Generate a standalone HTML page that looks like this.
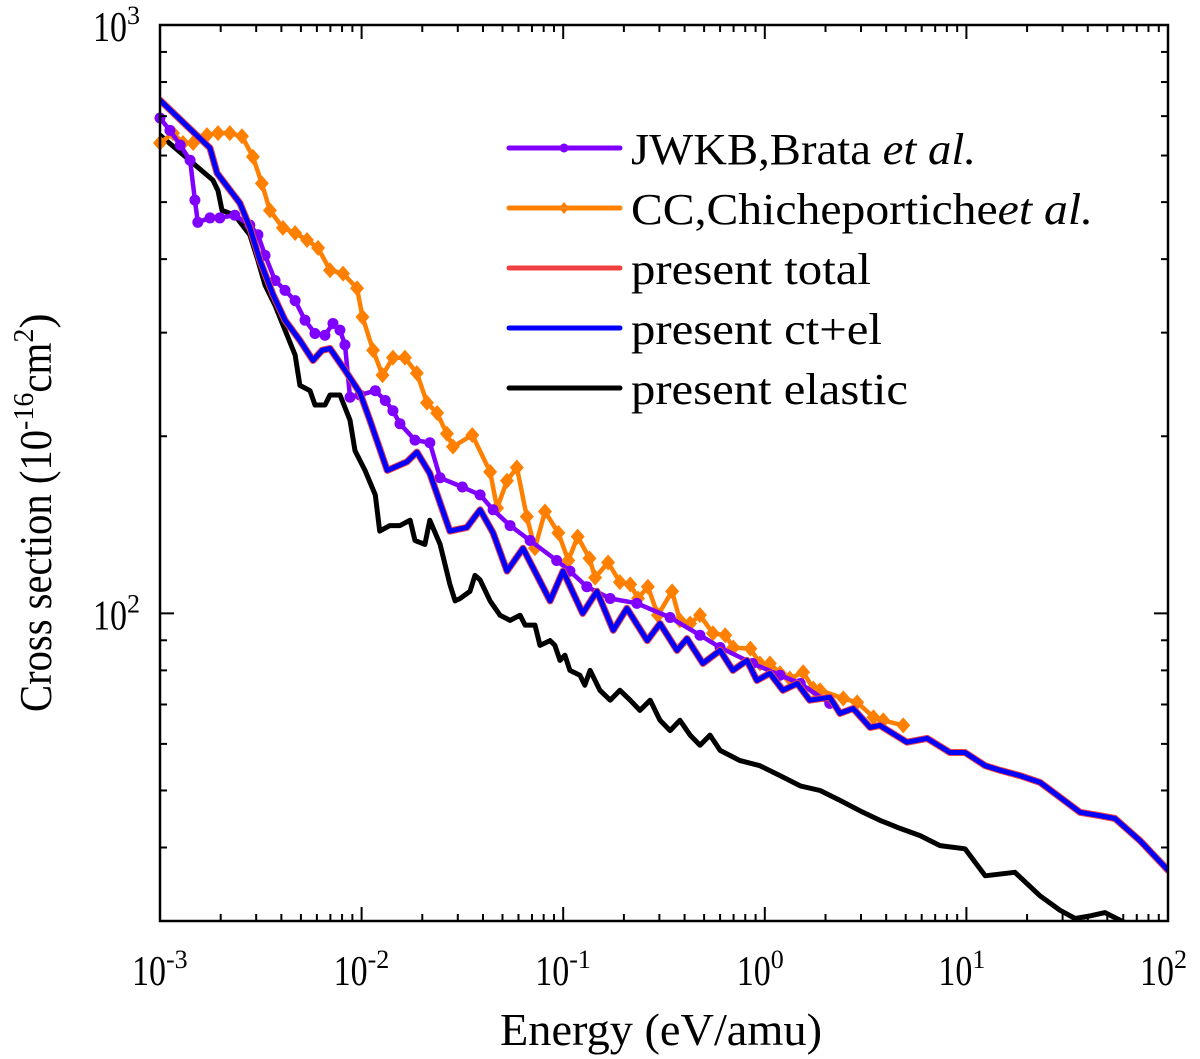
<!DOCTYPE html>
<html><head><meta charset="utf-8"><style>
html,body{margin:0;padding:0;background:#fff;}
svg{display:block;}
text{font-family:"Liberation Serif","Times New Roman",serif;}
</style></head><body>
<svg id="chart" width="1200" height="1059" viewBox="0 0 1200 1059" xmlns="http://www.w3.org/2000/svg">
<g id="series"></g>
<g id="axes"></g>
<g id="legend"></g>
</svg>
<script>
// ---- data ----
const blueE = [0.001,0.00177,0.00192,0.00249,0.00279,0.00313,0.00364,0.00417,0.00494,0.00574,0.00636,0.00697,0.00827,0.00982,0.0110,0.0134,0.0168,0.0188,0.0218,0.0274,0.0333,0.0387,0.0449,0.0526,0.0632,0.0861,0.0998,0.125,0.147,0.177,0.207,0.261,0.302,0.367,0.411,0.493,0.600,0.695,0.816,0.914,1.06,1.23,1.45,1.67,2.10,2.36,2.74,3.33,3.72,5.07,6.38,8.29,9.84,12.4,14.7,18.4,23.2,29.1,36.6,46.0,54.6,72.6,100];
const blueV = [745,618,560,498,453,398,348,315,291,269,280,282,259,237,213,175,181,188,173,138,140,150,137,118,129,105,118,100,109,93.6,102,89.9,96.1,86.5,90.6,82.2,86.5,80.0,83.2,76.9,79.1,74.0,76.0,71.2,72.0,67.6,68.9,64.0,64.5,60.4,61.3,58.0,58.0,55.1,54.1,53.0,51.6,48.7,45.9,45.3,44.8,41.1,36.6];
const redE = blueE;
const redV = blueV;
const blackE = [0.001,0.00183,0.00194,0.00203,0.00235,0.00279,0.00306,0.00332,0.00372,0.00417,0.00468,0.00494,0.00555,0.00587,0.00658,0.00697,0.00781,0.00876,0.00927,0.0104,0.0117,0.0123,0.0138,0.0155,0.0174,0.0184,0.0206,0.0218,0.0245,0.0274,0.0291,0.0308,0.0345,0.0365,0.0387,0.0434,0.0486,0.0545,0.0611,0.0647,0.0725,0.0767,0.0861,0.0910,0.0964,0.102,0.108,0.121,0.128,0.136,0.152,0.171,0.191,0.215,0.240,0.270,0.302,0.339,0.379,0.426,0.477,0.535,0.600,0.753,0.946,1.19,1.50,1.88,2.36,2.96,3.72,4.69,5.89,7.40,9.84,12.4,17.4,23.2,29.1,34.6,41.0,48.7,61.2];
const blackV = [650,545,523,484,475,440,398,361,334,303,275,244,239,226,226,235,235,213,189,175,159,138,141,141,144,133,131,144,131,112,105,106,109,116,114,105,99.3,97.3,99.3,95.5,95.5,88.2,89.9,88.2,83.2,84.9,80.0,78.5,75.5,80.0,74.0,71.2,74.0,71.2,68.4,71.2,65.8,63.2,65.8,62.1,59.7,62.1,58.5,56.2,55.1,53.0,50.9,50.0,48.1,46.2,44.5,43.1,41.9,40.3,39.8,35.8,36.3,33.1,31.3,30.3,30.6,31.0,29.8];
const purpleE = [0.001,0.00112,0.00126,0.00141,0.00149,0.00154,0.00177,0.00198,0.00235,0.00279,0.00306,0.00332,0.00372,0.00417,0.00468,0.00524,0.00587,0.00658,0.00721,0.00781,0.00827,0.00876,0.00982,0.0117,0.0131,0.0143,0.0155,0.0184,0.0218,0.0245,0.0316,0.0387,0.0449,0.0545,0.0685,0.0928,0.108,0.131,0.171,0.232,0.339,0.477,0.600,0.869,1.19,1.50,2.10];
const purpleV = [695,662,625,589,504,462,470,470,475,457,440,406,368,354,340,315,299,297,311,303,286,233,235,239,230,221,210,197,195,170,164,159,150,141,133,123,118,111,106,104,98.4,91.8,87.5,82.2,78.5,76.0,70.3];
const orangeE = [0.001,0.00116,0.00130,0.00146,0.00171,0.00194,0.00222,0.00255,0.00289,0.00320,0.00351,0.00407,0.00468,0.00536,0.00608,0.00697,0.00809,0.00949,0.0101,0.0114,0.0127,0.0143,0.0164,0.0188,0.0211,0.0237,0.0265,0.0284,0.0354,0.0434,0.0470,0.0526,0.0589,0.0660,0.0724,0.0812,0.0946,0.106,0.118,0.135,0.144,0.167,0.191,0.215,0.235,0.263,0.295,0.347,0.379,0.426,0.477,0.553,0.636,0.698,0.848,0.946,1.06,1.19,1.33,1.55,1.74,1.88,2.45,2.87,3.46,3.87,4.86];
const orangeV = [630,655,630,630,650,655,655,647,597,538,484,452,443,431,418,383,378,357,319,280,254,272,272,256,228,219,202,192,201,174,151,168,177,146,129,149,137,123,135,124,115,122,113,112,106,111,99.3,109,97.3,96.1,99.3,92.5,91.8,87.5,87.1,82.2,82.2,79.1,77.5,79.4,74.5,74.0,71.7,70.6,66.6,65.8,64.5];
const xTickExps = [-3,-2,-1,0,1,2];
const yTickExps = [2,3];
const legendLabels = ["JWKB,Brata","CC,Chicheportiche","present total","present ct+el","present elastic"];

// ---- scales ----
const L=160,R=1168,T=25,B=921;
const XMIN=-3,XMAX=2,YMIN=Math.log10(30),YMAX=3;
function sx(e){return L+(Math.log10(e)-XMIN)/(XMAX-XMIN)*(R-L);}
function sy(v){return T+(YMAX-Math.log10(v))/(YMAX-YMIN)*(B-T);}
const NS="http://www.w3.org/2000/svg";
function mk(tag,attrs,parent){const el=document.createElementNS(NS,tag);for(const k in attrs)el.setAttribute(k,attrs[k]);parent.appendChild(el);return el;}
const gS=document.getElementById('series'),gA=document.getElementById('axes'),gL=document.getElementById('legend');

const defs=mk('defs',{},gS);
const cp=mk('clipPath',{id:'clip'},defs);
mk('rect',{x:L,y:T,width:R-L,height:B-T},cp);

function line(E,V,color,w,name){
  const d=E.map((e,i)=>(i?'L':'M')+sx(e).toFixed(1)+','+sy(V[i]).toFixed(1)).join('');
  const p=mk('path',{d:d,fill:'none',stroke:color,'stroke-width':w,'stroke-linejoin':'round','stroke-linecap':'round','clip-path':'url(#clip)'},gS);
  
  
  return p;
}
line(blackE,blackV,'#000',5,'series-present-elastic');
line(orangeE,orangeV,'#ff8000',4.5,'series-cc-chicheportiche');
orangeE.forEach((e,i)=>{const x=sx(e),y=sy(orangeV[i]);
  const m=mk('path',{d:`M${x},${y-8}L${x+7},${y}L${x},${y+8}L${x-7},${y}Z`,fill:'#ff8000'},gS);
  
  
});
line(purpleE,purpleV,'#8000ff',4.5,'series-jwkb-brata');
purpleE.forEach((e,i)=>{
  const c=mk('circle',{cx:sx(e),cy:sy(purpleV[i]),r:5.5,fill:'#8000ff'},gS);
  
  
});
line(redE,redV,'#f04040',7,'series-present-total');
line(blueE,blueV,'#0000ff',5,'series-present-ct-el');

const fr=mk('rect',{x:L,y:T,width:R-L,height:B-T,fill:'none',stroke:'#000','stroke-width':2.5},gA);


for(let p=XMIN;p<XMAX;p++){
  for(let k=1;k<10;k++){
    const x=sx(k*Math.pow(10,p));const len=k===1?14:7;
    mk('line',{x1:x,y1:B,x2:x,y2:B-len,stroke:'#000','stroke-width':2},gA);
    mk('line',{x1:x,y1:T,x2:x,y2:T+len,stroke:'#000','stroke-width':2},gA);
  }
}
[30,40,50,60,70,80,90,100,200,300,400,500,600,700,800,900].forEach(v=>{
  const y=sy(v);const len=(v===100)?14:7;
  mk('line',{x1:L,y1:y,x2:L+len,y2:y,stroke:'#000','stroke-width':2},gA);
  mk('line',{x1:R,y1:y,x2:R-len,y2:y,stroke:'#000','stroke-width':2},gA);
});
xTickExps.forEach(p=>{
  const x=sx(Math.pow(10,p));
  const t=mk('text',{x:x-28,y:985,'font-size':42},gA);
  
  
  t.innerHTML='<tspan textLength="34" lengthAdjust="spacingAndGlyphs">10</tspan><tspan dy="-17" font-size="26">'+p+'</tspan>';
});
yTickExps.forEach(p=>{
  const y=sy(Math.pow(10,p));
  const t=mk('text',{x:93,y:y+16,'font-size':42},gA);
  
  
  t.innerHTML='<tspan textLength="34" lengthAdjust="spacingAndGlyphs">10</tspan><tspan dy="-17" font-size="26">'+p+'</tspan>';
});
const xt=mk('text',{x:500,y:1045,'font-size':46,textLength:322,lengthAdjust:'spacingAndGlyphs'},gA);


xt.textContent='Energy (eV/amu)';
const yt=mk('text',{x:0,y:0,'font-size':46,transform:'translate(51,712) rotate(-90)'},gA);


yt.innerHTML='<tspan textLength="282" lengthAdjust="spacingAndGlyphs">Cross section (10</tspan><tspan dy="-18" font-size="28">-16</tspan><tspan dy="18" textLength="50" lengthAdjust="spacingAndGlyphs">cm</tspan><tspan dy="-18" font-size="28">2</tspan><tspan dy="18">)</tspan>';

const legColors=['#8000ff','#ff8000','#f04040','#0000ff','#000'];
const legMarks=['dot','diamond','','',''];
const legWidths=[345,462,240,251,277];
legendLabels.forEach((lab,i)=>{
  const y=148+i*60;
  const g=mk('g',{},gL);
  
  
  mk('line',{x1:509,y1:y,x2:620,y2:y,stroke:legColors[i],'stroke-width':5,'stroke-linecap':'round'},g);
  if(legMarks[i]==='dot')mk('circle',{cx:564,cy:y,r:4.5,fill:legColors[i]},g);
  if(legMarks[i]==='diamond')mk('path',{d:`M564,${y-6}L569,${y}L564,${y+6}L559,${y}Z`,fill:legColors[i]},g);
  const t=mk('text',{x:631,y:y+16,'font-size':44,textLength:legWidths[i],lengthAdjust:'spacingAndGlyphs'},g);
  if(i===0){t.innerHTML=lab+' <tspan font-style="italic">et al.</tspan>';}
  else if(i===1){t.innerHTML=lab+'<tspan font-style="italic">et al.</tspan>';}
  else t.textContent=lab;
});
</script>
</body></html>
